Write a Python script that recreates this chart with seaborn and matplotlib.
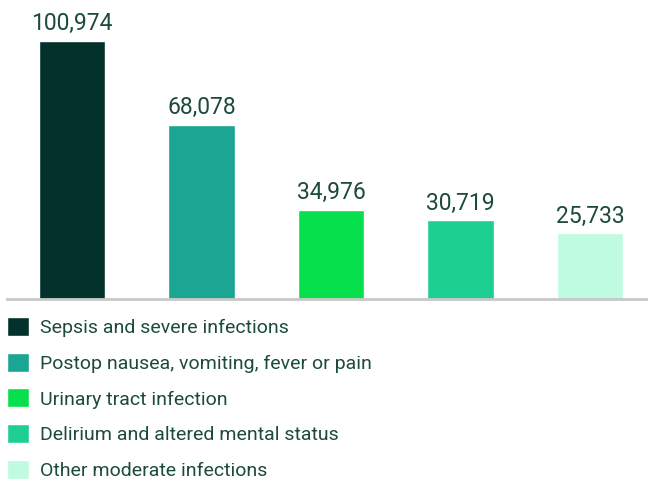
import matplotlib
matplotlib.use("Agg")
import matplotlib.pyplot as plt
import seaborn as sns

# data
categories = [
    "Sepsis and severe infections",
    "Postop nausea, vomiting, fever or pain",
    "Urinary tract infection",
    "Delirium and altered mental status",
    "Other moderate infections",
]
values = [100974, 68078, 34976, 30719, 25733]
colors = ["#03312b", "#1ba593", "#07e04d", "#1ecf92", "#bffbe0"]
text_color = "#1d4a3e"

sns.set_theme(style="white")
plt.rcParams["font.family"] = ["Roboto", "DejaVu Sans"]

fig = plt.figure(figsize=(6.48, 4.79), dpi=100)
ax = fig.add_axes([7 / 648, 0.3758, 641 / 648, 0.6242])

sns.barplot(x=categories, y=values, hue=categories, palette=colors,
            width=0.51, legend=False, saturation=1, ax=ax)

ax.set_xlim(-0.502, 4.448)
ax.set_ylim(0, 117000)
ax.set_xticks([])
ax.set_yticks([])
ax.set_xlabel("")
ax.set_ylabel("")
for side in ["top", "right", "left"]:
    ax.spines[side].set_visible(False)
ax.spines["bottom"].set_color("#c8c8c8")
ax.spines["bottom"].set_linewidth(2)

# value labels above bars
for i, v in enumerate(values):
    ax.annotate(f"{v:,}", (i, v), xytext=(0, 4), textcoords="offset points",
                ha="center", va="bottom", fontsize=16.5, color=text_color)

# legend with square swatches
handles = [c.patches[0] for c in ax.containers]
fig.legend(handles, categories, loc="upper left", bbox_to_anchor=(7 / 648, 0.338),
           frameon=False, fontsize=14, labelcolor=text_color,
           handlelength=1.13, handleheight=1.13, handletextpad=0.55,
           labelspacing=0.8, borderaxespad=0, borderpad=0)

fig.savefig("out.png", dpi=100)
